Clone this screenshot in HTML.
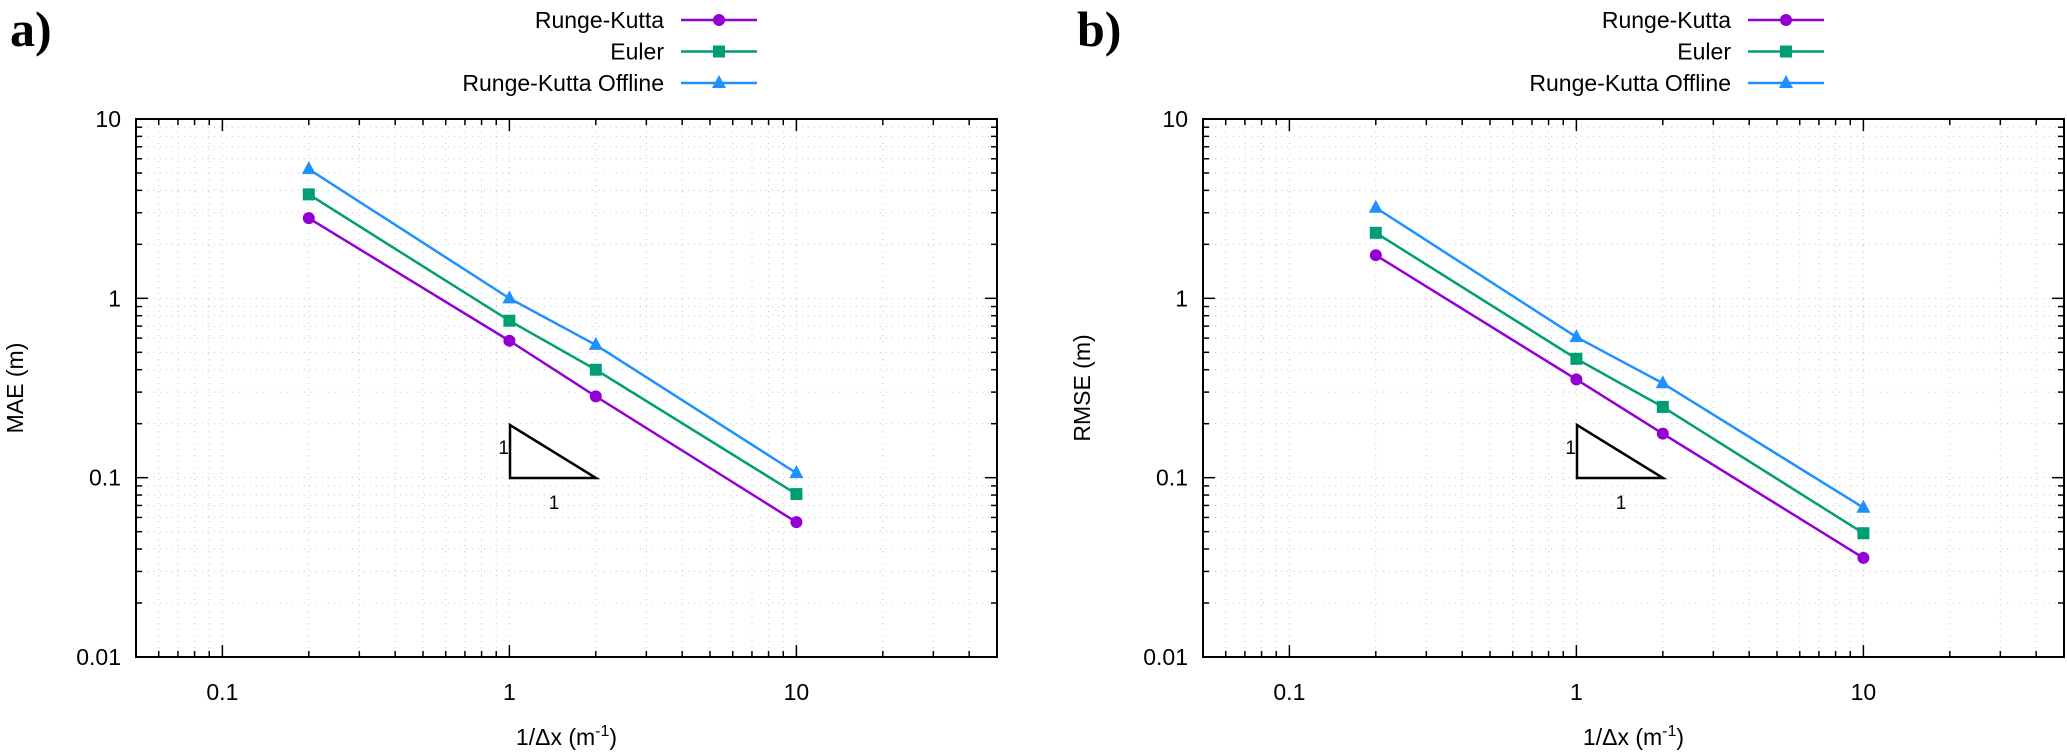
<!DOCTYPE html>
<html><head><meta charset="utf-8"><style>
html,body{margin:0;padding:0;background:#fff}
svg{display:block;font-family:"Liberation Sans",sans-serif}
</style></head><body>
<svg id="chart" width="2067" height="754" viewBox="0 0 2067 754" xmlns="http://www.w3.org/2000/svg"></svg>
<script>
const xValues = [0.2, 1, 2, 10];
const seriesNames = ["Runge-Kutta", "Euler", "Runge-Kutta Offline"];
const maeRK = [2.8, 0.58, 0.284, 0.0565];
const maeEuler = [3.8, 0.75, 0.40, 0.081];
const maeRKO = [5.25, 1.0, 0.55, 0.106];
const rmseRK = [1.74, 0.353, 0.176, 0.0357];
const rmseEuler = [2.32, 0.46, 0.248, 0.049];
const rmseRKO = [3.2, 0.608, 0.336, 0.068];
const xTickVals = [0.1, 1, 10];
const xTickLabels = ["0.1", "1", "10"];
const yTickVals = [0.01, 0.1, 1, 10];
const yTickLabels = ["0.01", "0.1", "1", "10"];

const NS = "http://www.w3.org/2000/svg";
const svg = document.getElementById("chart");
const colors = ["#9400d3", "#009e73", "#1e90ff"];
function mk(tag, attrs, parent) {
  const e = document.createElementNS(NS, tag);
  for (const k in attrs) e.setAttribute(k, attrs[k]);
  (parent || svg).appendChild(e);
  return e;
}
function marker(g, i, x, y) {
  let m;
  if (i === 0) m = mk("circle", {cx: x, cy: y, r: 6, fill: colors[i]}, g);
  else if (i === 1) m = mk("rect", {x: x - 6, y: y - 6, width: 12, height: 12, fill: colors[i]}, g);
  else m = mk("polygon", {points: `${x},${y-8} ${x+7},${y+5} ${x-7},${y+5}`, fill: colors[i]}, g);
  return m;
}

function panel(opts) {
  const L = opts.left, R = opts.right, T = 119, B = 657;
  const xmin = Math.log10(0.05), xmax = Math.log10(50);
  const ymin = -2, ymax = 1;
  const X = v => L + (Math.log10(v) - xmin) / (xmax - xmin) * (R - L);
  const Y = v => B - (Math.log10(v) - ymin) / (ymax - ymin) * (B - T);
  const g = mk("g", {});
  
  

  const grid = mk("g", {stroke: "#c8c8c8", "stroke-width": 1, "stroke-dasharray": "1,5"}, g);
  
  
  const ticksG = mk("g", {stroke: "#000", "stroke-width": 1.5}, g);
  
  
  for (let d = -2; d <= 1; d++) {
    for (let m = 1; m <= 9; m++) {
      const v = m * Math.pow(10, d);
      if (v < 0.05 || v > 50) continue;
      const x = X(v);
      if (x > L + 1 && x < R - 1) mk("line", {x1: x, x2: x, y1: T, y2: B}, grid);
      const len = m === 1 ? 12 : 6;
      mk("line", {x1: x, x2: x, y1: B, y2: B - len}, ticksG);
      mk("line", {x1: x, x2: x, y1: T, y2: T + len}, ticksG);
    }
  }
  for (let d = -2; d <= 1; d++) {
    for (let m = 1; m <= 9; m++) {
      const v = m * Math.pow(10, d);
      if (v > 10) continue;
      const y = Y(v);
      if (y > T + 1 && y < B - 1) mk("line", {x1: L, x2: R, y1: y, y2: y}, grid);
      const len = m === 1 ? 12 : 6;
      mk("line", {x1: L, x2: L + len, y1: y, y2: y}, ticksG);
      mk("line", {x1: R, x2: R - len, y1: y, y2: y}, ticksG);
    }
  }
  const frame = mk("rect", {x: L, y: T, width: R - L, height: B - T, fill: "none", stroke: "#000", "stroke-width": 2}, g);
  
  

  xTickVals.forEach((v, i) => {
    const t = mk("text", {x: X(v), y: 700, "font-size": 23, "text-anchor": "middle"}, g);
    t.textContent = xTickLabels[i];
    
    
  });
  yTickVals.forEach((v, i) => {
    const t = mk("text", {x: L - 15, y: Y(v) + 8, "font-size": 23, "text-anchor": "end"}, g);
    t.textContent = yTickLabels[i];
    
    
  });

  const xt = mk("text", {x: (L + R) / 2, y: 745, "font-size": 23, "text-anchor": "middle"}, g);
  xt.innerHTML = '1/Δx (m<tspan dy="-9" font-size="16">-1</tspan><tspan dy="9">)</tspan>';
  
  
  const cy = (T + B) / 2;
  const yt = mk("text", {x: L - 113, y: cy, "font-size": 23, "text-anchor": "middle", transform: `rotate(-90 ${L - 113} ${cy})`}, g);
  yt.textContent = opts.ylabel;
  
  

  const pl = mk("text", {x: opts.labelX, y: 46, "font-size": 50, "font-weight": "bold", "font-family": "Liberation Serif, serif"}, g);
  pl.textContent = opts.panelLabel;
  
  

  const tx = L + 374, ty1 = 425, ty2 = 478, tx2 = L + 460;
  const tri = mk("polygon", {points: `${tx},${ty1} ${tx},${ty2} ${tx2},${ty2}`, fill: "none", stroke: "#000", "stroke-width": 2.5}, g);
  
  
  const t1 = mk("text", {x: tx - 1, y: 454, "font-size": 19, "text-anchor": "end"}, g);
  t1.textContent = "1";
  
  
  const t2 = mk("text", {x: tx + 44, y: 509, "font-size": 19, "text-anchor": "middle"}, g);
  t2.textContent = "1";
  
  

  opts.series.forEach((vals, i) => {
    const sg = mk("g", {}, g);
    
    
    const pts = vals.map((v, j) => `${X(xValues[j])},${Y(v)}`).join(" ");
    const pl2 = mk("polyline", {points: pts, fill: "none", stroke: colors[i], "stroke-width": 2.5}, sg);
    
    
    vals.forEach((v, j) => {
      const m = marker(sg, i, X(xValues[j]), Y(v));
      
      
    });
  });

  const lg = mk("g", {}, g);
  
  
  const lx1 = L + 545, lx2 = L + 621;
  seriesNames.forEach((n, i) => {
    const y = 20 + i * 31.5;
    const le = mk("g", {}, lg);
    
    
    const t = mk("text", {x: L + 528, y: y + 8, "font-size": 23, "text-anchor": "end"}, le);
    t.textContent = n;
    mk("line", {x1: lx1, x2: lx2, y1: y, y2: y, stroke: colors[i], "stroke-width": 2.5}, le);
    marker(le, i, (lx1 + lx2) / 2, y);
  });
}

panel({name: "panel-a-mae", left: 136, right: 997, ylabel: "MAE (m)", panelLabel: "a)", labelX: 10,
  series: [maeRK, maeEuler, maeRKO]});
panel({name: "panel-b-rmse", left: 1203, right: 2064, ylabel: "RMSE (m)", panelLabel: "b)", labelX: 1077,
  series: [rmseRK, rmseEuler, rmseRKO]});
</script>
</body></html>
